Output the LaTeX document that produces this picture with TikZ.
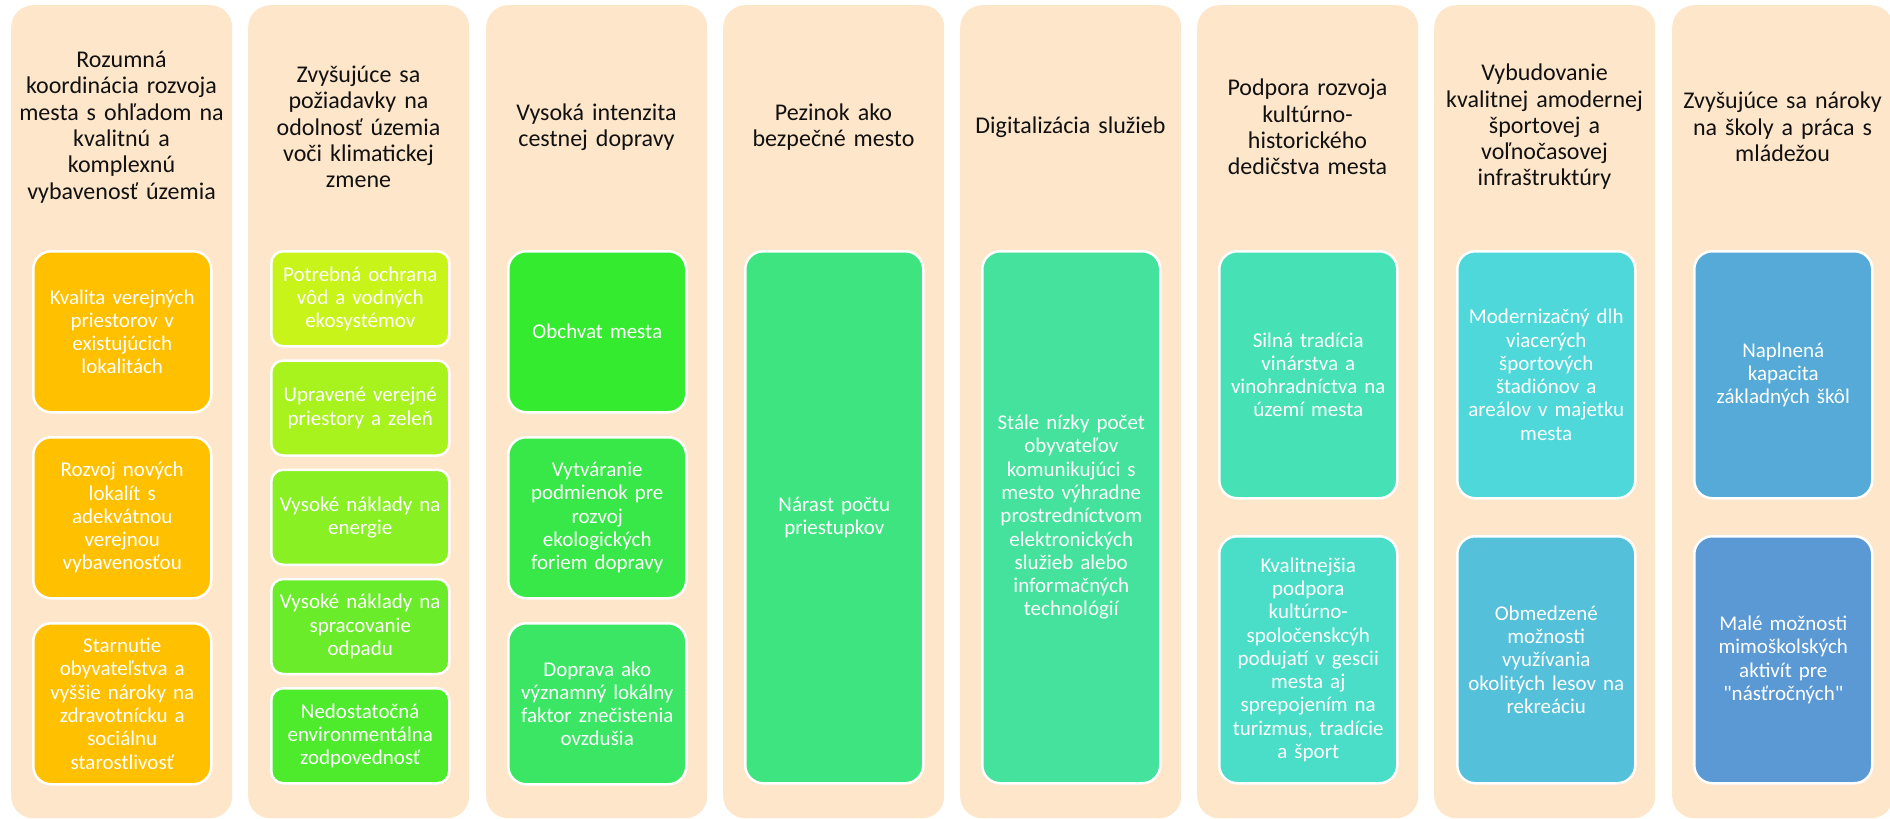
\documentclass[tikz,border=0pt]{standalone}
\usepackage{fontspec}
\setmainfont{Carlito}[Ligatures=TeXOff]
\definecolor{colbg}{HTML}{FEE6CA}
\definecolor{cA}{HTML}{FFC000}
\definecolor{cB1}{HTML}{C8F41A}
\definecolor{cB2}{HTML}{A8F21E}
\definecolor{cB3}{HTML}{88F023}
\definecolor{cB4}{HTML}{6AEC2A}
\definecolor{cB5}{HTML}{4EEB2D}
\definecolor{cC1}{HTML}{35EB30}
\definecolor{cC2}{HTML}{37E848}
\definecolor{cC3}{HTML}{3AE664}
\definecolor{cD}{HTML}{3EE480}
\definecolor{cE}{HTML}{44E29C}
\definecolor{cF1}{HTML}{46E1B4}
\definecolor{cF2}{HTML}{4ADEC8}
\definecolor{cG1}{HTML}{4ED8DA}
\definecolor{cG2}{HTML}{54C0DA}
\definecolor{cH1}{HTML}{55AAD7}
\definecolor{cH2}{HTML}{5B99D4}
\definecolor{headtxt}{HTML}{111111}
\tikzset{
  colbox/.style={fill=colbg, rounded corners=22pt, minimum width=221pt, minimum height=813pt, anchor=north west, inner sep=0pt},
  head/.style={text width=215pt, align=center, font=\fontsize{24}{26.3}\selectfont, text=headtxt, inner sep=0pt},
  item/.style={draw=white, line width=2.5pt, rounded corners=18pt, text=white, align=center, font=\fontsize{21}{23.3}\selectfont, anchor=north west, inner sep=0pt, minimum width=178pt, text width=170pt},
  itemsmall/.style={item, rounded corners=12pt, minimum height=95pt},
  itemthree/.style={item, minimum height=161pt},
  itemtwo/.style={item, minimum height=247pt},
  itemone/.style={item, minimum height=532pt},
}
\begin{document}
\begin{tikzpicture}[x=1pt,y=-1pt]
\useasboundingbox (0,0) rectangle (1890,819);
% columns
\node[colbox] (k1) at (11,5) {};
\node[colbox] (k2) at (248,5) {};
\node[colbox] (k3) at (486,5) {};
\node[colbox] (k4) at (723,5) {};
\node[colbox] (k5) at (960,5) {};
\node[colbox] (k6) at (1197,5) {};
\node[colbox] (k7) at (1434,5) {};
\node[colbox] (k8) at (1672,5) {};
% headers
\node[head] (h1) at (121.5,127) {Rozumná\\koordinácia rozvoja\\mesta s ohľadom na\\kvalitnú a\\komplexnú\\vybavenosť územia};
\node[head] (h2) at (358.5,127) {Zvyšujúce sa\\požiadavky na\\odolnosť územia\\voči klimatickej\\zmene};
\node[head] (h3) at (596.5,127) {Vysoká intenzita\\cestnej dopravy};
\node[head] (h4) at (833.5,127) {Pezinok ako\\bezpečné mesto};
\node[head] (h5) at (1070.5,127) {Digitalizácia služieb};
\node[head] (h6) at (1307.5,127) {Podpora rozvoja\\kultúrno-\\historického\\dedičstva mesta};
\node[head] (h7) at (1544.5,127) {Vybudovanie\\kvalitnej amodernej\\športovej a\\voľnočasovej\\infraštruktúry};
\node[head] (h8) at (1782.5,127) {Zvyšujúce sa nároky\\na školy a práca s\\mládežou};
% column 1
\node[itemthree, fill=cA] (a1) at (32,250) {Kvalita verejných\\priestorov v\\existujúcich\\lokalitách};
\node[itemthree, fill=cA] (a2) at (32,436) {Rozvoj nových\\lokalít s\\adekvátnou\\verejnou\\vybavenosťou};
\node[itemthree, fill=cA] (a3) at (32,622) {Starnutie\\obyvateľstva a\\vyššie nároky na\\zdravotnícku a\\sociálnu\\starostlivosť};
% column 2
\node[itemsmall, fill=cB1] (b1) at (270,250) {Potrebná ochrana\\vôd a vodných\\ekosystémov};
\node[itemsmall, fill=cB2] (b2) at (270,359.25) {Upravené verejné\\priestory a zeleň};
\node[itemsmall, fill=cB3] (b3) at (270,468.5) {Vysoké náklady na\\energie};
\node[itemsmall, fill=cB4] (b4) at (270,577.75) {Vysoké náklady na\\spracovanie\\odpadu};
\node[itemsmall, fill=cB5] (b5) at (270,687) {Nedostatočná\\environmentálna\\zodpovednosť};
% column 3
\node[itemthree, fill=cC1] (c1) at (507,250) {Obchvat mesta};
\node[itemthree, fill=cC2] (c2) at (507,436) {Vytváranie\\podmienok pre\\rozvoj\\ekologických\\foriem dopravy};
\node[itemthree, fill=cC3] (c3) at (507,622) {Doprava ako\\významný lokálny\\faktor znečistenia\\ovzdušia};
% column 4
\node[itemone, fill=cD] (d1) at (744,250) {Nárast počtu\\priestupkov};
% column 5
\node[itemone, fill=cE] (e1) at (981,250) {Stále nízky počet\\obyvateľov\\komunikujúci s\\mesto výhradne\\prostredníctvom\\elektronických\\služieb alebo\\informačných\\technológií};
% column 6
\node[itemtwo, fill=cF1] (f1) at (1218,250) {Silná tradícia\\vinárstva a\\vinohradníctva na\\území mesta};
\node[itemtwo, fill=cF2] (f2) at (1218,535) {Kvalitnejšia\\podpora\\kultúrno-\\spoločenskcýh\\podujatí v gescii\\mesta aj\\sprepojením na\\turizmus, tradície\\a šport};
% column 7
\node[itemtwo, fill=cG1] (g1) at (1456,250) {Modernizačný dlh\\viacerých\\športových\\štadiónov a\\areálov v majetku\\mesta};
\node[itemtwo, fill=cG2] (g2) at (1456,535) {Obmedzené\\možnosti\\využívania\\okolitých lesov na\\rekreáciu};
% column 8
\node[itemtwo, fill=cH1] (m1) at (1693,250) {Naplnená\\kapacita\\základných škôl};
\node[itemtwo, fill=cH2] (m2) at (1693,535) {Malé možnosti\\mimoškolských\\aktivít pre\\"násťročných"};
\end{tikzpicture}
\end{document}
